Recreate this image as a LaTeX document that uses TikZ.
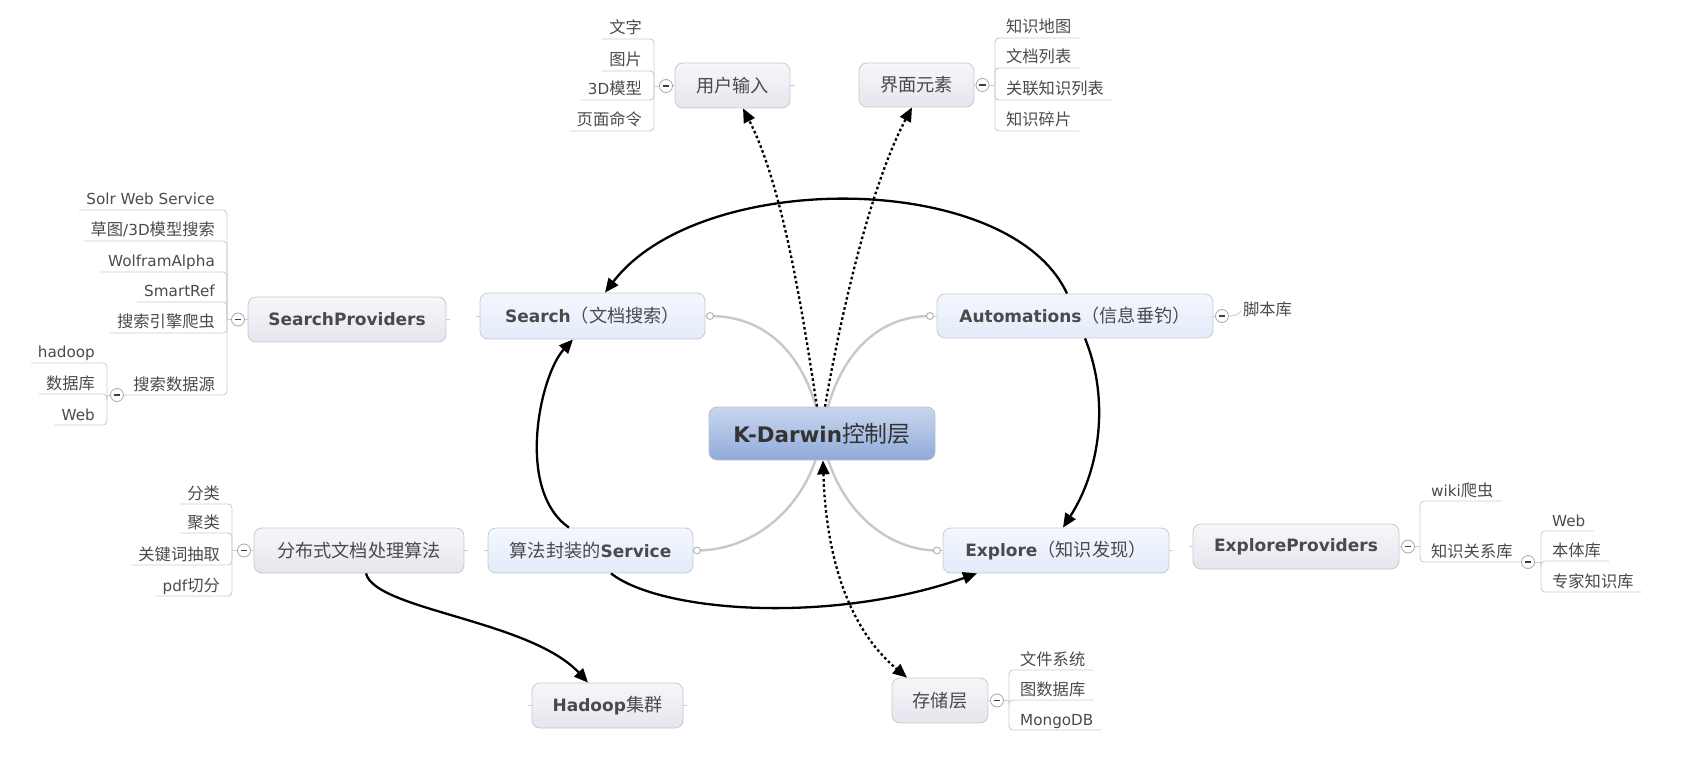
\documentclass[tikz,border=0pt]{standalone}
\usepackage{fontspec}
\setmainfont{DejaVu Sans}
\newfontfamily\cjk{Noto Sans CJK SC}[Scale=1.07]
\usetikzlibrary{arrows.meta,backgrounds,calc}
\definecolor{txt}{HTML}{4A4A4A}
\definecolor{ctxt}{HTML}{333333}
\definecolor{lineGray}{HTML}{CCCCCC}
\definecolor{curveGray}{HTML}{C8C8C8}
\definecolor{mbTop}{HTML}{F4F7FD}
\definecolor{mbBot}{HTML}{E3EBFA}
\definecolor{mbDraw}{HTML}{C5CBD6}
\definecolor{fbTop}{HTML}{F7F7FA}
\definecolor{fbBot}{HTML}{E5E6EE}
\definecolor{fbDraw}{HTML}{C8C8CE}
\definecolor{cbTop}{HTML}{C9D7EE}
\definecolor{cbBot}{HTML}{8FAADA}
\definecolor{cbDraw}{HTML}{B4C1D6}
\definecolor{circDraw}{HTML}{A8A8A8}
\newcommand\lleaf[5]{\node[leaf,anchor=base east] (#1) at (#3-12,#4-5) {#5};
  \draw[branch] (#2) |- ([shift={(-7pt,-5pt)}]#1.base west);}
\newcommand\rleaf[5]{\node[leaf,anchor=base west] (#1) at (#3+11,#4-5) {#5};
  \draw[branch] (#2) |- ([shift={(8pt,-5pt)}]#1.base east);}
\begin{document}
\begin{tikzpicture}[x=1pt,y=-1pt,
  box/.style={rounded corners=8pt, line width=0.8pt, inner sep=0pt, align=center, text=txt,
    font=\fontsize{17}{20}\selectfont},
  mainbox/.style={box, draw=mbDraw, top color=mbTop, bottom color=mbBot},
  floatbox/.style={box, draw=fbDraw, top color=fbTop, bottom color=fbBot},
  centerbox/.style={box, draw=cbDraw, top color=cbTop, bottom color=cbBot, text=ctxt,
    font=\fontsize{21.4}{24}\selectfont},
  leaf/.style={inner sep=0pt, text=txt, font=\fontsize{15.2}{18}\selectfont},
  branch/.style={draw=lineGray, line width=0.9pt, rounded corners=4pt},
  curve/.style={draw=curveGray, line width=2.4pt},
  collapse/.style={circle, draw=circDraw, fill=white, line width=0.8pt, minimum size=13pt, inner sep=0pt,
    path picture={\draw[line width=1.5pt, black!75] ([xshift=-3.3pt]path picture bounding box.center) -- ([xshift=3.3pt]path picture bounding box.center);}},
  dotc/.style={circle, draw=circDraw, fill=white, minimum size=7pt, inner sep=0pt, line width=0.8pt},
  rel/.style={line width=2.3pt, black, -{Triangle[length=14pt,width=12pt]}},
  dotrel/.style={rel, dash pattern=on 2.6pt off 2.6pt}
]
\useasboundingbox (0,0) rectangle (1690,767);

% ---------- main nodes ----------
\node[centerbox, minimum width=226pt, minimum height=53pt] (K) at (822,433.5) {\bfseries K-Darwin{\cjk\mdseries 控制层}};
\node[mainbox, minimum width=225pt, minimum height=46pt] (search) at (592.5,316) {{\bfseries Search}{\cjk （文档搜索）}};
\node[mainbox, minimum width=276pt, minimum height=44pt] (auto) at (1075,316) {{\bfseries Automations}{\cjk （信息垂钓）}};
\node[mainbox, minimum width=226pt, minimum height=45pt] (explore) at (1056,550.5) {{\bfseries Explore}{\cjk （知识发现）}};
\node[mainbox, minimum width=205pt, minimum height=45pt] (service) at (590.5,550.5) {{\cjk 算法封装的}{\bfseries Service}};
\node[floatbox, minimum width=210pt, minimum height=45pt] (fenbu) at (359,550.5) {\cjk 分布式文档处理算法};
\node[floatbox, minimum width=151pt, minimum height=45pt] (hadoop) at (607.5,705.5) {{\bfseries Hadoop}{\cjk 集群}};
\node[floatbox, minimum width=96pt, minimum height=45pt] (cunchu) at (940,700.5) {\cjk 存储层};
\node[floatbox, minimum width=206pt, minimum height=45pt] (exprov) at (1296,546.5) {\bfseries ExploreProviders};
\node[floatbox, minimum width=198pt, minimum height=45pt] (sprov) at (347,319.5) {\bfseries SearchProviders};
\node[floatbox, minimum width=115pt, minimum height=45pt] (yonghu) at (732.5,85.5) {\cjk 用户输入};
\node[floatbox, minimum width=115pt, minimum height=44pt] (jiemian) at (916.5,85) {\cjk 界面元素};

% ---------- small connector circles & curves ----------
\node[dotc] (sd) at (710,316) {};
\node[dotc] (ad) at (930,316) {};
\node[dotc] (ed) at (937,550.5) {};
\node[dotc] (vd) at (697,550.5) {};
\begin{scope}[on background layer]
\draw[curve] (sd.center) .. controls (770,316) and (810,360) .. (K.center);
\draw[curve] (ad.center) .. controls (874,316) and (834,360) .. (K.center);
\draw[curve] (vd.center) .. controls (760,550) and (812,500) .. (K.center);
\draw[curve] (ed.center) .. controls (880,550) and (832,500) .. (K.center);
\draw[branch] (search.east) -- (sd);
\draw[branch] (auto.west) -- (ad);
\draw[branch] (explore.west) -- (ed);
\draw[branch] (service.east) -- (vd);
\end{scope}

% ---------- stubs ----------
\draw[branch] (yonghu.east) -- ++(5,0);
\draw[branch] (sprov.east) -- ++(4,0);
\draw[branch] (search.west) -- ++(-4,0);
\draw[branch] (fenbu.east) -- ++(4,0);
\draw[branch] (service.west) -- ++(-4,0);
\draw[branch] (hadoop.west) -- ++(-4,0);
\draw[branch] (hadoop.east) -- ++(4,0);
\draw[branch] (explore.east) -- ++(4,0);
\draw[branch] (exprov.west) -- ++(-4,0);

% ---------- 用户输入 ----------
\node[collapse] (yc) at (666,86) {};
\coordinate (ub) at (654,86);
\draw[branch] (yonghu.west) -- (yc);
\draw[branch] (yc) -- (ub);
\lleaf{ya}{ub}{654}{39}{\cjk 文字}
\lleaf{yb}{ub}{654}{71}{\cjk 图片}
\lleaf{y3}{ub}{654}{100}{3D{\cjk 模型}}
\lleaf{yd}{ub}{654}{131}{\cjk 页面命令}

% ---------- 界面元素 ----------
\node[collapse] (jc) at (982.5,85) {};
\coordinate (jb) at (995,85);
\draw[branch] (jiemian.east) -- (jc);
\draw[branch] (jc) -- (jb);
\rleaf{jl1}{jb}{995}{38}{\cjk 知识地图}
\rleaf{jl2}{jb}{995}{68}{\cjk 文档列表}
\rleaf{jl3}{jb}{995}{100}{\cjk 关联知识列表}
\rleaf{jl4}{jb}{995}{131}{\cjk 知识碎片}

% ---------- SearchProviders ----------
\node[collapse] (sc) at (238,319.5) {};
\coordinate (sb) at (227,319.5);
\draw[branch] (sprov.west) -- (sc);
\draw[branch] (sc) -- (sb);
\lleaf{s1}{sb}{227}{210}{Solr Web Service}
\lleaf{s2}{sb}{227}{241}{{\cjk 草图}/3D{\cjk 模型搜索}}
\lleaf{s3}{sb}{227}{272}{WolframAlpha}
\lleaf{s4}{sb}{227}{302}{SmartRef}
\lleaf{s5}{sb}{227}{333}{\cjk 搜索引擎爬虫}
\node[collapse] (sc2) at (117,395) {};
\coordinate (sb2) at (107,395);
\node[leaf,anchor=base east] (s6) at (215,390) {\cjk 搜索数据源};
\draw[branch] (sb) |- (sc2.east);
\draw[branch] (sc2) -- (sb2);
\lleaf{h1}{sb2}{107}{363}{hadoop}
\lleaf{h2}{sb2}{107}{394}{\cjk 数据库}
\lleaf{h3}{sb2}{107}{425}{Web}

% ---------- 分布式文档处理算法 ----------
\node[collapse] (fc) at (244,550.5) {};
\coordinate (fb) at (232,550.5);
\draw[branch] (fenbu.west) -- (fc);
\draw[branch] (fc) -- (fb);
\lleaf{f1}{fb}{232}{504}{\cjk 分类}
\lleaf{f2}{fb}{232}{533}{\cjk 聚类}
\lleaf{f3}{fb}{232}{565}{\cjk 关键词抽取}
\lleaf{f4}{fb}{232}{596}{pdf{\cjk 切分}}

% ---------- 存储层 ----------
\node[collapse] (cc) at (997,700.5) {};
\coordinate (cb) at (1009,700.5);
\draw[branch] (cunchu.east) -- (cc);
\draw[branch] (cc) -- (cb);
\rleaf{c1}{cb}{1009}{670}{\cjk 文件系统}
\rleaf{c2}{cb}{1009}{700}{\cjk 图数据库}
\rleaf{c3}{cb}{1009}{730}{MongoDB}

% ---------- ExploreProviders ----------
\node[collapse] (ec) at (1408,546.5) {};
\coordinate (eb) at (1420,546.5);
\draw[branch] (exprov.east) -- (ec);
\draw[branch] (ec) -- (eb);
\rleaf{e1}{eb}{1420}{501}{wiki{\cjk 爬虫}}
\node[collapse] (ec2) at (1528,562) {};
\coordinate (eb2) at (1541,562);
\node[leaf,anchor=base west] (e2) at (1431,557) {\cjk 知识关系库};
\draw[branch] (eb) |- (ec2.west);
\draw[branch] (ec2) -- (eb2);
\rleaf{e3}{eb2}{1541}{531}{Web}
\rleaf{e4}{eb2}{1541}{561}{\cjk 本体库}
\rleaf{e5}{eb2}{1541}{592}{\cjk 专家知识库}

% ---------- Automations ----------
\node[collapse] (ac) at (1222,316) {};
\node[leaf,anchor=west] (jbk) at (1243,309) {\cjk 脚本库};
\draw[branch] (auto.east) -- (ac);
\draw[branch] (ac.east) to[out=0,in=-125] ([xshift=-2pt,yshift=-2pt]jbk.west);

% ---------- relationships ----------
\draw[rel] ([xshift=-8pt]auto.north) .. controls (1010,170) and (700,168) .. ([xshift=12.5pt]search.north);
\draw[rel] ([xshift=10pt]auto.south) .. controls (1110,400) and (1100,470) .. ([xshift=7pt]explore.north);
\draw[rel] ([xshift=-21.5pt]service.north) .. controls (515,490) and (540,375) .. ([xshift=-19.5pt]search.south);
\draw[rel] ([xshift=20.5pt]service.south) .. controls (660,612) and (830,625) .. ([xshift=-79pt]explore.south);
\draw[rel] ([xshift=7pt]fenbu.south) .. controls (375,610) and (530,620) .. ([xshift=-19.5pt]hadoop.north);
\draw[dotrel] ([xshift=-5pt]K.north) .. controls (805,330) and (785,190) .. ([xshift=10.5pt]yonghu.south);
\draw[dotrel] ([xshift=3pt]K.north) .. controls (838,330) and (868,190) .. ([xshift=-4.5pt]jiemian.south);
\draw[dotrel, {Triangle[length=14pt,width=12pt]}-{Triangle[length=14pt,width=12pt]}] ([xshift=1pt]K.south) .. controls (826,560) and (850,630) .. ([xshift=-33pt]cunchu.north);
\end{tikzpicture}
\end{document}
